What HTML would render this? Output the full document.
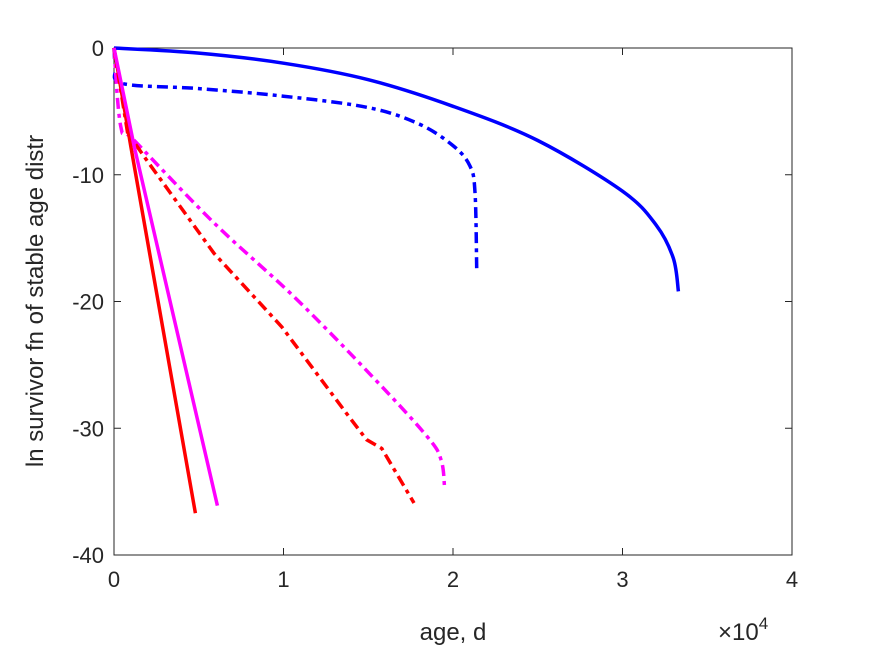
<!DOCTYPE html>
<html><head><meta charset="utf-8"><style>
body{margin:0;background:#fff;}
svg{display:block;font-family:"Liberation Sans",sans-serif;}
</style></head><body>
<svg id="chart" width="875" height="656" viewBox="0 0 875 656">
<rect width="875" height="656" fill="#fff"/>
<g id="axes"></g>
<g id="series"></g>
</svg>
<script>
const xTicks=[0,1,2,3,4];
const yTicks=[0,-10,-20,-30,-40];
const blueSolidX=[0,0.5,1,1.5,2,2.5,3,3.2,3.3,3.33];
const blueSolidY=[0,-0.4,-1.2,-2.5,-4.6,-7.3,-11.3,-14,-16.6,-19.2];
const blueDashX=[0,0.01,0.05,0.5,1,1.5,1.8,2.0,2.1,2.13,2.14];
const blueDashY=[0,-1.5,-2.8,-3.2,-3.8,-4.7,-6.0,-7.7,-9.3,-11.4,-17.4];
const magDashX=[0,0.04,0.12,0.59,1.06,1.53,1.85,1.93,1.95];
const magDashY=[0,-6.2,-7.3,-13.8,-19.6,-26,-30.7,-32.5,-34.6];
const redDashX=[0,0.08,0.19,0.59,0.99,1.37,1.49,1.58,1.77];
const redDashY=[0,-6.7,-8.8,-16.2,-22,-28.8,-30.9,-31.6,-35.9];
const redSolidX=[0,0.1,0.48];
const redSolidY=[0,-7.8,-36.7];
const magSolidX=[0,0.12,0.61];
const magSolidY=[0,-7.8,-36.1];
const NS="http://www.w3.org/2000/svg";
const X0=114,X1=792,Y0=48,Y1=555;
const sx=v=>X0+(v-0)/(4-0)*(X1-X0);
const sy=v=>Y0+(0-v)/(0+40)*(Y1-Y0);
const axes=document.getElementById('axes');
const series=document.getElementById('series');
function mk(t,a,p){const e=document.createElementNS(NS,t);for(const k in a)e.setAttribute(k,a[k]);p.appendChild(e);return e;}
const frame=mk('rect',{x:X0,y:Y0,width:X1-X0,height:Y1-Y0,fill:'none',stroke:'#262626','stroke-width':1},axes);


xTicks.forEach(t=>{
 const x=sx(t);
 const l=mk('path',{d:`M${x},${Y1}v-7M${x},${Y0}v7`,stroke:'#262626','stroke-width':1},axes);
 
 
 const tx=mk('text',{x:x,y:Y1+32,'text-anchor':'middle','font-size':22,fill:'#262626'},axes);
 tx.textContent=t;
 
 
});
yTicks.forEach(t=>{
 const y=sy(t);
 const l=mk('path',{d:`M${X0},${y}h7M${X1},${y}h-7`,stroke:'#262626','stroke-width':1},axes);
 
 
 const tx=mk('text',{x:X0-10,y:y+8,'text-anchor':'end','font-size':22,fill:'#262626'},axes);
 tx.textContent=t;
 
 
});
const xl=mk('text',{x:453,y:640,'text-anchor':'middle','font-size':24,fill:'#262626'},axes);
xl.textContent='age, d';


const ex=mk('text',{x:718,y:640,'font-size':24,fill:'#262626'},axes);
ex.innerHTML='×10<tspan dy="-11" font-size="17">4</tspan>';


const yl=mk('text',{x:0,y:0,'text-anchor':'middle','font-size':24,fill:'#262626',transform:'translate(43,301) rotate(-90)'},axes);
yl.textContent='ln survivor fn of stable age distr';


function line(xs,ys,color,dash,name,smooth){
 const P=xs.map((v,i)=>[sx(v),sy(ys[i])]);
 let d='M'+P[0][0].toFixed(1)+','+P[0][1].toFixed(1);
 for(let i=0;i<P.length-1;i++){
  const p0=P[Math.max(0,i-1)],p1=P[i],p2=P[i+1],p3=P[Math.min(P.length-1,i+2)];
  if(smooth){
   const c1=[p1[0]+(p2[0]-p0[0])/6,p1[1]+(p2[1]-p0[1])/6];
   const c2=[p2[0]-(p3[0]-p1[0])/6,p2[1]-(p3[1]-p1[1])/6];
   d+=`C${c1[0].toFixed(1)},${c1[1].toFixed(1)} ${c2[0].toFixed(1)},${c2[1].toFixed(1)} ${p2[0].toFixed(1)},${p2[1].toFixed(1)}`;
  } else d+=`L${p2[0].toFixed(1)},${p2[1].toFixed(1)}`;
 }
 const p=mk('path',{d:d,fill:'none',stroke:color,'stroke-width':3.5,'stroke-linejoin':'round'},series);
 if(dash)p.setAttribute('stroke-dasharray',dash);
 
 
}
line(blueSolidX,blueSolidY,'#0000ff',null,'blue-solid-line',true);
line(blueDashX,blueDashY,'#0000ff','11,5,4,5','blue-dashdot-line',true);
line(magDashX,magDashY,'#ff00ff','11,5,4,5','magenta-dashdot-line',true);
line(redDashX,redDashY,'#ff0000','11,5,4,5','red-dashdot-line',false);
line(redSolidX,redSolidY,'#ff0000',null,'red-solid-line',false);
line(magSolidX,magSolidY,'#ff00ff',null,'magenta-solid-line',false);
</script>
</body></html>
